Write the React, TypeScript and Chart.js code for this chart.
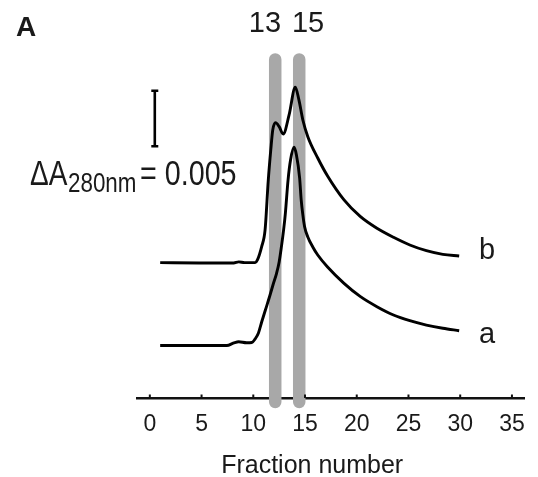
import React, { useEffect, useRef } from 'react';
import { Chart, registerables } from 'chart.js';

Chart.register(...registerables);

// Fraction-number ticks
const xTicks = [0, 5, 10, 15, 20, 25, 30, 35];
const xTitle = 'Fraction number';

// Curve b (upper trace), absorbance offset in mAU (ΔA x 1000)
const curveBx = [1.0, 4.77, 8.11, 8.59, 9.16, 10.18, 10.4, 10.81, 11.14, 11.45, 11.69, 11.88, 12.15, 12.5, 12.89, 13.46, 14.06, 14.41, 14.79, 15.27, 16.23, 17.18, 18.77, 20.36, 21.95, 23.55, 25.13, 26.73, 28.32, 29.9];
const curveBy = [12.17, 12.14, 12.14, 12.24, 12.17, 12.17, 12.41, 13.61, 15.11, 19.6, 22.3, 24.1, 24.76, 24.4, 23.74, 25.45, 27.94, 26.8, 25.0, 23.5, 21.58, 19.96, 17.81, 16.3, 15.26, 14.45, 13.76, 13.25, 12.92, 12.77];

// Curve a (lower trace)
const curveAx = [1.0, 4.77, 7.44, 8.11, 8.59, 9.35, 9.86, 10.18, 10.5, 10.81, 11.17, 11.62, 11.93, 12.25, 12.5, 12.72, 12.93, 13.1, 13.36, 13.6, 13.94, 14.17, 14.48, 14.63, 14.79, 14.96, 15.27, 15.75, 16.23, 17.18, 18.77, 20.36, 21.95, 23.55, 25.13, 26.73, 28.32, 29.9];
const curveAy = [4.72, 4.72, 4.72, 4.95, 5.06, 4.97, 4.99, 5.31, 5.85, 6.83, 7.91, 9.26, 10.25, 11.21, 12.23, 13.61, 15.11, 16.61, 19.6, 21.4, 22.54, 21.85, 19.78, 17.81, 16.46, 15.4, 14.48, 13.58, 12.86, 11.78, 10.31, 9.11, 8.21, 7.46, 6.95, 6.56, 6.27, 6.05];

// Highlighted fractions (gray bands) and their labels
const bandX = [12.12, 14.44];
const bandLabels = ['13', '15'];
const bandLabelX = [11.12, 15.3];
const bandRange = [-0.36, 30.44];

// Scale bar: ΔA280nm = 0.005 -> 5 mAU
const scaleBarValue = 5;
const scaleBarBase = 22.63;
const scaleBarX = 0.48;

const curveLabels = ['b', 'a'];

const FAMILY = '"Liberation Sans", Arial, Helvetica, sans-serif';
const TEXT = '#1a1a1a';

function toPts(xs: number[], ys: number[]) {
  return xs.map((x, i) => ({ x, y: ys[i] }));
}

function drawText(ctx: CanvasRenderingContext2D, text: string, x: number, y: number, font: string, sx = 1, align: CanvasTextAlign = 'left') {
  ctx.save();
  ctx.translate(x, y);
  ctx.scale(sx, 1);
  ctx.font = font;
  ctx.textAlign = align;
  ctx.textBaseline = 'alphabetic';
  ctx.fillStyle = TEXT;
  ctx.fillText(text, 0, 0);
  ctx.restore();
}

const annotations = {
  id: 'annotations',
  afterDraw(chart: any) {
    const { ctx, scales } = chart;
    const xs = scales.x;
    const ys = scales.y;
    const area = chart.chartArea;
    ctx.save();
    // small tick marks pointing up from the axis
    ctx.strokeStyle = '#111';
    ctx.lineWidth = 2;
    xTicks.forEach((t) => {
      const px = xs.getPixelForValue(t);
      ctx.beginPath();
      ctx.moveTo(px, area.bottom);
      ctx.lineTo(px, area.bottom - 3.5);
      ctx.stroke();
    });
    // scale bar
    const bx = xs.getPixelForValue(scaleBarX);
    const y0 = ys.getPixelForValue(scaleBarBase);
    const y1 = ys.getPixelForValue(scaleBarBase + scaleBarValue);
    ctx.lineWidth = 2.6;
    ctx.strokeStyle = '#000';
    ctx.beginPath();
    ctx.moveTo(bx, y0);
    ctx.lineTo(bx, y1);
    ctx.moveTo(bx - 3.5, y0);
    ctx.lineTo(bx + 3.5, y0);
    ctx.moveTo(bx - 3.5, y1);
    ctx.lineTo(bx + 3.5, y1);
    ctx.stroke();
    ctx.restore();

    // panel letter
    drawText(ctx, 'A', 16, 36, `bold 28px ${FAMILY}`);
    // band labels
    bandLabels.forEach((lab, i) => {
      drawText(ctx, lab, xs.getPixelForValue(bandLabelX[i]), 32, `29px ${FAMILY}`, 1, 'center');
    });
    // scale bar legend
    drawText(ctx, '\u0394A', 30, 185, `35px ${FAMILY}`, 0.8);
    drawText(ctx, '280nm', 68, 192, `28px ${FAMILY}`, 0.8);
    drawText(ctx, '= 0.005', 140, 185, `35px ${FAMILY}`, 0.82);
    // curve labels
    drawText(ctx, curveLabels[0], 479, 258.5, `29px ${FAMILY}`);
    drawText(ctx, curveLabels[1], 479, 342.7, `29px ${FAMILY}`);
    // axis title
    drawText(ctx, xTitle, xs.getPixelForValue(15.69), 473, `25px ${FAMILY}`, 1, 'center');
  },
};

export default function App() {
  const ref = useRef<HTMLCanvasElement | null>(null);
  useEffect(() => {
    if (!ref.current) return;
    const bands = bandX.map((bx) => ({
      data: [
        { x: bx, y: bandRange[1] },
        { x: bx, y: bandRange[0] },
      ],
      borderColor: '#a8a8a8',
      borderWidth: 12.5,
      borderCapStyle: 'round' as const,
      pointRadius: 0,
      clip: false as any,
      order: 1,
    }));
    const chart = new Chart(ref.current, {
      type: 'line',
      data: {
        datasets: [
          {
            label: 'b',
            data: toPts(curveBx, curveBy),
            borderColor: '#000',
            borderWidth: 2.9,
            pointRadius: 0,
            cubicInterpolationMode: 'monotone',
            borderJoinStyle: 'round',
            fill: false,
            order: 0,
          },
          {
            label: 'a',
            data: toPts(curveAx, curveAy),
            borderColor: '#000',
            borderWidth: 2.9,
            pointRadius: 0,
            cubicInterpolationMode: 'monotone',
            borderJoinStyle: 'round',
            fill: false,
            order: 0,
          },
          ...bands,
        ] as any,
      },
      options: {
        animation: false,
        responsive: false,
        maintainAspectRatio: false,
        devicePixelRatio: 1,
        layout: { padding: { left: 137, right: 8, top: 40, bottom: 39 } },
        plugins: { legend: { display: false }, tooltip: { enabled: false } },
        scales: {
          x: {
            type: 'linear',
            min: -1.24,
            max: 36.27,
            afterBuildTicks: (s: any) => {
              s.ticks = xTicks.map((v) => ({ value: v }));
            },
            afterFit: (s: any) => {
              s.height = 40;
            },
            grid: { display: true, drawOnChartArea: false, drawTicks: false, lineWidth: 0 },
            border: { display: true, color: '#111', width: 2.6 },
            ticks: { padding: 13, font: { size: 23, family: FAMILY }, color: TEXT, maxRotation: 0, autoSkip: false },
          },
          y: { type: 'linear', display: false, min: 0, max: 32.19 },
        },
      },
      plugins: [annotations],
    });
    return () => chart.destroy();
  }, []);
  return (
    <div style={{ position: 'absolute', left: 0, top: 0, width: 538, height: 477, background: '#fff' }}>
      <canvas ref={ref} width={538} height={477} style={{ display: 'block', width: 538, height: 477 }} />
    </div>
  );
}
